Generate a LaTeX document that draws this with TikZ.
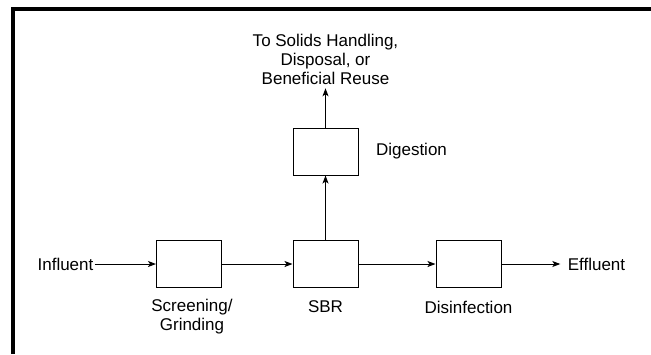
\documentclass[tikz,border=0pt]{standalone}
\usepackage{fontspec}
\setmainfont{Liberation Sans}
\usetikzlibrary{arrows.meta, positioning}

\begin{document}
\begin{tikzpicture}[x=1pt,y=-1pt,align=center,node distance=140pt,
  font=\fontsize{17}{19}\selectfont]
\tikzstyle{unit}=[rectangle,draw=black,line width=1pt,minimum width=65pt,minimum height=47pt,inner sep=0pt]
\tikzstyle{flow}=[-{Stealth[length=8pt,width=6pt,inset=2pt]},line width=1pt]
\tikzstyle{frame}=[line width=4pt]

\useasboundingbox (0,0) rectangle (651,354);
\draw[frame] (13,354) -- (13,9) -- (651,9);

\node[unit] (scr) at (189,264) {};
\node[unit] (sbr) [right of = scr, node distance=136.5pt] {};
\node[unit] (dis) [right of = sbr, node distance=143pt] {};
\node[unit] (dig) [above of = sbr, node distance=112.5pt] {};

\node (inf) [left of = scr, node distance=123.5pt, inner sep=1pt] {Influent};
\node (eff) [right of = dis, node distance=128pt] {Effluent};
\node (out) [above of = dig, node distance=92pt] {To Solids Handling,\\Disposal, or\\Beneficial Reuse};

\node (scrlab) [below of = scr, node distance=52.5pt, xshift=3pt] {Screening/\\Grinding};
\node (sbrlab) [below of = sbr, node distance=43pt] {SBR};
\node (dislab) [below of = dis, node distance=43pt] {Disinfection};
\node (diglab) [right of = dig, node distance=86pt] {Digestion};

\path
  (inf) edge [flow] (scr)
  (scr) edge [flow] (sbr)
  (sbr) edge [flow] (dis)
  (dis) edge [flow, shorten >=4pt] (eff)
  (sbr) edge [flow] (dig)
  (dig) edge [flow] (out);
\end{tikzpicture}
\end{document}
